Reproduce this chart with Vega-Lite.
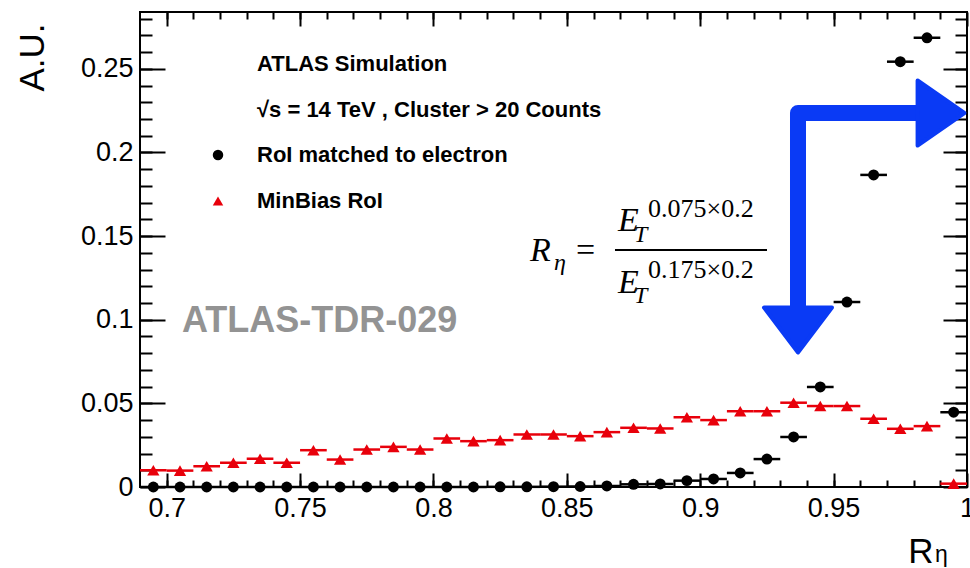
{
  "$schema": "https://vega.github.io/schema/vega-lite/v6.json",
  "autosize": {"type": "none"},
  "width": 827,
  "height": 475,
  "padding": {"left": 140, "top": 12, "right": 3, "bottom": 81},
  "background": "white",
  "config": {
    "view": {"stroke": "black", "strokeWidth": 2},
    "axis": {
      "domain": false, "grid": false, "tickColor": "black", "tickWidth": 2,
      "labelColor": "black", "labelFont": "Liberation Sans", "labelFontSize": 27,
      "titleColor": "black", "titleFont": "Liberation Sans", "titleFontWeight": "normal",
      "labelOverlap": false, "labelFlush": false
    }
  },
  "datasets": {
    "hist": [
      {"bin_lo": 0.69, "bin_hi": 0.70, "center": 0.695, "electron": 0.0, "minbias": 0.0100},
      {"bin_lo": 0.70, "bin_hi": 0.71, "center": 0.705, "electron": 0.0, "minbias": 0.0098},
      {"bin_lo": 0.71, "bin_hi": 0.72, "center": 0.715, "electron": 0.0, "minbias": 0.0124},
      {"bin_lo": 0.72, "bin_hi": 0.73, "center": 0.725, "electron": 0.0, "minbias": 0.0145},
      {"bin_lo": 0.73, "bin_hi": 0.74, "center": 0.735, "electron": 0.0, "minbias": 0.0169},
      {"bin_lo": 0.74, "bin_hi": 0.75, "center": 0.745, "electron": 0.0, "minbias": 0.0145},
      {"bin_lo": 0.75, "bin_hi": 0.76, "center": 0.755, "electron": 0.0, "minbias": 0.0220},
      {"bin_lo": 0.76, "bin_hi": 0.77, "center": 0.765, "electron": 0.0, "minbias": 0.0164},
      {"bin_lo": 0.77, "bin_hi": 0.78, "center": 0.775, "electron": 0.0, "minbias": 0.0224},
      {"bin_lo": 0.78, "bin_hi": 0.79, "center": 0.785, "electron": 0.0, "minbias": 0.0240},
      {"bin_lo": 0.79, "bin_hi": 0.80, "center": 0.795, "electron": 0.0, "minbias": 0.0224},
      {"bin_lo": 0.80, "bin_hi": 0.81, "center": 0.805, "electron": 0.0, "minbias": 0.0290},
      {"bin_lo": 0.81, "bin_hi": 0.82, "center": 0.815, "electron": 0.0, "minbias": 0.0274},
      {"bin_lo": 0.82, "bin_hi": 0.83, "center": 0.825, "electron": 0.0001, "minbias": 0.0280},
      {"bin_lo": 0.83, "bin_hi": 0.84, "center": 0.835, "electron": 0.0001, "minbias": 0.0314},
      {"bin_lo": 0.84, "bin_hi": 0.85, "center": 0.845, "electron": 0.0002, "minbias": 0.0314},
      {"bin_lo": 0.85, "bin_hi": 0.86, "center": 0.855, "electron": 0.0003, "minbias": 0.0304},
      {"bin_lo": 0.86, "bin_hi": 0.87, "center": 0.865, "electron": 0.0006, "minbias": 0.0328},
      {"bin_lo": 0.87, "bin_hi": 0.88, "center": 0.875, "electron": 0.0016, "minbias": 0.0354},
      {"bin_lo": 0.88, "bin_hi": 0.89, "center": 0.885, "electron": 0.0018, "minbias": 0.0350},
      {"bin_lo": 0.89, "bin_hi": 0.90, "center": 0.895, "electron": 0.0038, "minbias": 0.0417},
      {"bin_lo": 0.90, "bin_hi": 0.91, "center": 0.905, "electron": 0.0048, "minbias": 0.0400},
      {"bin_lo": 0.91, "bin_hi": 0.92, "center": 0.915, "electron": 0.0084, "minbias": 0.0453},
      {"bin_lo": 0.92, "bin_hi": 0.93, "center": 0.925, "electron": 0.0167, "minbias": 0.0453},
      {"bin_lo": 0.93, "bin_hi": 0.94, "center": 0.935, "electron": 0.0299, "minbias": 0.0504},
      {"bin_lo": 0.94, "bin_hi": 0.95, "center": 0.945, "electron": 0.0598, "minbias": 0.0484},
      {"bin_lo": 0.95, "bin_hi": 0.96, "center": 0.955, "electron": 0.1106, "minbias": 0.0484},
      {"bin_lo": 0.96, "bin_hi": 0.97, "center": 0.965, "electron": 0.1866, "minbias": 0.0408},
      {"bin_lo": 0.97, "bin_hi": 0.98, "center": 0.975, "electron": 0.2543, "minbias": 0.0348},
      {"bin_lo": 0.98, "bin_hi": 0.99, "center": 0.985, "electron": 0.2686, "minbias": 0.0364},
      {"bin_lo": 0.99, "bin_hi": 1.00, "center": 0.995, "electron": 0.0447, "minbias": 0.0020}
    ]
  },
  "resolve": {"axis": {"x": "independent", "y": "independent"}},
  "layer": [
    {
      "data": {"name": "hist"},
      "mark": {"type": "rule", "color": "#e8000b", "strokeWidth": 2.5},
      "encoding": {
        "x": {"field": "bin_lo", "type": "quantitative",
          "scale": {"domain": [0.69, 1.0], "nice": false, "zero": false},
          "axis": {"orient": "bottom", "values": [0.7, 0.75, 0.8, 0.85, 0.9, 0.95, 1], "format": "~g",
            "tickSize": -14, "labelPadding": 22,
            "title": "R", "titleFontSize": 35, "titleAnchor": "end", "titleAlign": "right",
            "titleBaseline": "alphabetic", "titleX": 793, "titleY": 75}},
        "x2": {"field": "bin_hi"},
        "y": {"field": "minbias", "type": "quantitative",
          "scale": {"domain": [0, 0.284], "nice": false, "zero": false},
          "axis": {"orient": "left", "values": [0, 0.05, 0.1, 0.15, 0.2, 0.25], "format": "~g",
            "tickSize": -25, "labelPadding": 32,
            "title": "A.U.", "titleFontSize": 35, "titleAngle": -90, "titleAnchor": "end", "titleAlign": "right",
            "titleBaseline": "alphabetic", "titleX": -97, "titleY": 11}}
      }
    },
    {
      "data": {"name": "hist"},
      "mark": {"type": "point", "shape": "triangle-up", "filled": true, "color": "#e8000b", "size": 150, "opacity": 1},
      "encoding": {
        "x": {"field": "center", "type": "quantitative",
          "axis": {"orient": "bottom", "values": [0.7, 0.71, 0.72, 0.73, 0.74, 0.75, 0.76, 0.77, 0.78, 0.79, 0.8, 0.81, 0.82, 0.83, 0.84, 0.85, 0.86, 0.87, 0.88, 0.89, 0.9, 0.91, 0.92, 0.93, 0.94, 0.95, 0.96, 0.97, 0.98, 0.99],
            "tickSize": -7, "labels": false, "title": null}},
        "y": {"field": "minbias", "type": "quantitative",
          "axis": {"orient": "left", "values": [0.01, 0.02, 0.03, 0.04, 0.05, 0.06, 0.07, 0.08, 0.09, 0.1, 0.11, 0.12, 0.13, 0.14, 0.15, 0.16, 0.17, 0.18, 0.19, 0.2, 0.21, 0.22, 0.23, 0.24, 0.25, 0.26, 0.27, 0.28],
            "tickSize": -12, "labels": false, "title": null}}
      }
    },
    {
      "data": {"name": "hist"},
      "mark": {"type": "rule", "color": "black", "strokeWidth": 2.5},
      "encoding": {
        "x": {"field": "bin_lo", "type": "quantitative",
          "axis": {"orient": "top", "values": [0.7, 0.75, 0.8, 0.85, 0.9, 0.95, 1], "tickSize": -14, "labels": false, "title": null}},
        "x2": {"field": "bin_hi"},
        "y": {"field": "electron", "type": "quantitative",
          "axis": {"orient": "right", "values": [0, 0.05, 0.1, 0.15, 0.2, 0.25], "tickSize": -24, "labels": false, "title": null}}
      }
    },
    {
      "data": {"name": "hist"},
      "mark": {"type": "point", "shape": "circle", "filled": true, "color": "black", "size": 120, "opacity": 1},
      "encoding": {
        "x": {"field": "center", "type": "quantitative",
          "axis": {"orient": "top", "values": [0.7, 0.71, 0.72, 0.73, 0.74, 0.75, 0.76, 0.77, 0.78, 0.79, 0.8, 0.81, 0.82, 0.83, 0.84, 0.85, 0.86, 0.87, 0.88, 0.89, 0.9, 0.91, 0.92, 0.93, 0.94, 0.95, 0.96, 0.97, 0.98, 0.99],
            "tickSize": -7, "labels": false, "title": null}},
        "y": {"field": "electron", "type": "quantitative",
          "axis": {"orient": "right", "values": [0.01, 0.02, 0.03, 0.04, 0.05, 0.06, 0.07, 0.08, 0.09, 0.1, 0.11, 0.12, 0.13, 0.14, 0.15, 0.16, 0.17, 0.18, 0.19, 0.2, 0.21, 0.22, 0.23, 0.24, 0.25, 0.26, 0.27, 0.28],
            "tickSize": -12, "labels": false, "title": null}}
      }
    },
    {
      "data": {"values": [{"label": "η", "x": 0.98800, "y": -0.04484}]},
      "mark": {"type": "text", "font": "Liberation Sans", "fontSize": 23, "color": "black", "align": "left", "baseline": "alphabetic", "clip": false},
      "encoding": {
        "x": {"field": "x", "type": "quantitative", "axis": null},
        "y": {"field": "y", "type": "quantitative", "axis": null},
        "text": {"field": "label"}
      }
    },
    {
      "data": {"values": [
        {"label": "ATLAS Simulation", "x": 0.73386, "y": 0.24873},
        {"label": "√s = 14 TeV , Cluster > 20 Counts", "x": 0.73386, "y": 0.22122},
        {"label": "RoI matched to electron", "x": 0.73386, "y": 0.19432},
        {"label": "MinBias RoI", "x": 0.73386, "y": 0.16681}
      ]},
      "mark": {"type": "text", "font": "Liberation Sans", "fontWeight": "bold", "fontSize": 22, "color": "black", "align": "left", "baseline": "alphabetic"},
      "encoding": {
        "x": {"field": "x", "type": "quantitative", "axis": null},
        "y": {"field": "y", "type": "quantitative", "axis": null},
        "text": {"field": "label"}
      }
    },
    {
      "data": {"values": [{"x": 0.71924, "y": 0.19850}]},
      "mark": {"type": "point", "shape": "circle", "filled": true, "color": "black", "size": 110, "opacity": 1},
      "encoding": {
        "x": {"field": "x", "type": "quantitative", "axis": null},
        "y": {"field": "y", "type": "quantitative", "axis": null}
      }
    },
    {
      "data": {"values": [{"x": 0.71924, "y": 0.17100}]},
      "mark": {"type": "point", "shape": "triangle-up", "filled": true, "color": "#e8000b", "size": 110, "opacity": 1},
      "encoding": {
        "x": {"field": "x", "type": "quantitative", "axis": null},
        "y": {"field": "y", "type": "quantitative", "axis": null}
      }
    },
    {
      "data": {"values": [{"label": "ATLAS-TDR-029", "x": 0.70574, "y": 0.09267}]},
      "mark": {"type": "text", "font": "Liberation Sans", "fontWeight": "bold", "fontSize": 36, "color": "#939393", "align": "left", "baseline": "alphabetic"},
      "encoding": {
        "x": {"field": "x", "type": "quantitative", "axis": null},
        "y": {"field": "y", "type": "quantitative", "axis": null},
        "text": {"field": "label"}
      }
    },
    {
      "data": {"values": [
        {"label": "R", "x": 0.83619, "y": 0.13512},
        {"label": "E", "x": 0.86918, "y": 0.15306},
        {"label": "E", "x": 0.86918, "y": 0.11599}
      ]},
      "mark": {"type": "text", "font": "Liberation Serif", "fontStyle": "italic", "fontSize": 34, "color": "black", "align": "left", "baseline": "alphabetic"},
      "encoding": {
        "x": {"field": "x", "type": "quantitative", "axis": null},
        "y": {"field": "y", "type": "quantitative", "axis": null},
        "text": {"field": "label"}
      }
    },
    {
      "data": {"values": [{"label": "=", "x": 0.85343, "y": 0.13512}]},
      "mark": {"type": "text", "font": "Liberation Serif", "fontSize": 34, "color": "black", "align": "left", "baseline": "alphabetic"},
      "encoding": {
        "x": {"field": "x", "type": "quantitative", "axis": null},
        "y": {"field": "y", "type": "quantitative", "axis": null},
        "text": {"field": "label"}
      }
    },
    {
      "data": {"values": [
        {"label": "η", "x": 0.84519, "y": 0.12974},
        {"label": "T", "x": 0.87520, "y": 0.14648},
        {"label": "T", "x": 0.87520, "y": 0.11001}
      ]},
      "mark": {"type": "text", "font": "Liberation Serif", "fontStyle": "italic", "fontSize": 24, "color": "black", "align": "left", "baseline": "alphabetic"},
      "encoding": {
        "x": {"field": "x", "type": "quantitative", "axis": null},
        "y": {"field": "y", "type": "quantitative", "axis": null},
        "text": {"field": "label"}
      }
    },
    {
      "data": {"values": [
        {"label": "0.075×0.2", "x": 0.88042, "y": 0.16143},
        {"label": "0.175×0.2", "x": 0.88042, "y": 0.12496}
      ]},
      "mark": {"type": "text", "font": "Liberation Serif", "fontSize": 26, "color": "black", "align": "left", "baseline": "alphabetic"},
      "encoding": {
        "x": {"field": "x", "type": "quantitative", "axis": null},
        "y": {"field": "y", "type": "quantitative", "axis": null},
        "text": {"field": "label"}
      }
    },
    {
      "data": {"values": [{"x": 0.86805, "x2": 0.92503, "y": 0.14170}]},
      "mark": {"type": "rule", "color": "black", "strokeWidth": 2},
      "encoding": {
        "x": {"field": "x", "type": "quantitative", "axis": null},
        "x2": {"field": "x2"},
        "y": {"field": "y", "type": "quantitative", "axis": null}
      }
    },
    {
      "data": {"values": [
        {"step": 1, "x": 0.98238, "y": 0.22361},
        {"step": 2, "x": 0.93665, "y": 0.22361},
        {"step": 3, "x": 0.93665, "y": 0.10463}
      ]},
      "mark": {"type": "line", "color": "#0a3af5", "strokeWidth": 16, "strokeCap": "round", "strokeJoin": "round"},
      "encoding": {
        "x": {"field": "x", "type": "quantitative", "axis": null},
        "y": {"field": "y", "type": "quantitative", "axis": null},
        "order": {"field": "step", "type": "quantitative"}
      }
    },
    {
      "data": {"values": [{"x": 0.93665, "y": 0.09387}]},
      "mark": {"type": "point", "shape": "M-1,-0.66L1,-0.66L0,0.66Z", "filled": true, "color": "#0a3af5", "size": 4624, "opacity": 1, "strokeJoin": "round", "stroke": "#0a3af5", "strokeWidth": 4},
      "encoding": {
        "x": {"field": "x", "type": "quantitative", "axis": null},
        "y": {"field": "y", "type": "quantitative", "axis": null}
      }
    },
    {
      "data": {"values": [{"x": 0.99025, "y": 0.22361}]},
      "mark": {"type": "point", "shape": "M-0.72,-1L0.72,0L-0.72,1Z", "filled": true, "color": "#0a3af5", "size": 4225, "opacity": 1, "strokeJoin": "round", "stroke": "#0a3af5", "strokeWidth": 4},
      "encoding": {
        "x": {"field": "x", "type": "quantitative", "axis": null},
        "y": {"field": "y", "type": "quantitative", "axis": null}
      }
    }
  ]
}
